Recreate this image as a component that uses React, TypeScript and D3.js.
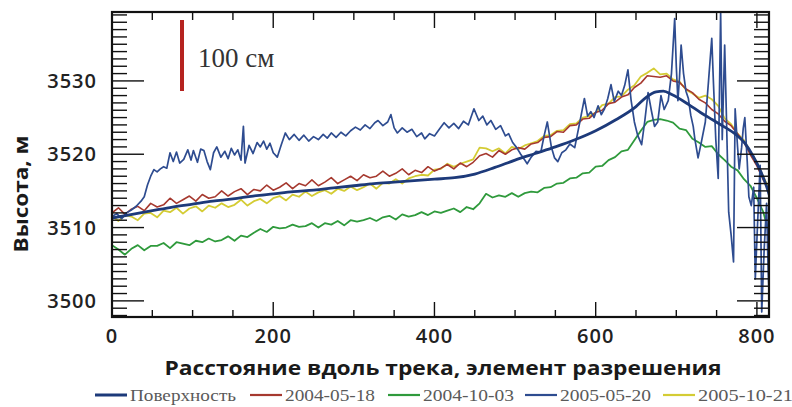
import React from "react";
import * as d3 from "d3";

// ---------- data ----------
const xTicks = [0, 200, 400, 600, 800];
const yTicks = [3500, 3510, 3520, 3530];
const legendLabels = ["Поверхность", "2004-05-18", "2004-10-03", "2005-05-20", "2005-10-21"];
const scaleBarLabel = "100 см";
const xTitle = "Расстояние вдоль трека, элемент разрешения";
const yTitle = "Высота, м";

// smooth surface
const surfX = [0, 25, 50, 75, 100, 125, 150, 175, 200, 225, 250, 275, 300, 325, 350, 375, 400, 425, 450, 475, 500, 525, 550, 575, 600, 625, 650, 663, 675, 684, 695, 715, 730, 745, 760, 775, 785, 795, 805, 812, 818];
const surfY = [3511.3, 3511.8, 3512.3, 3512.8, 3513.2, 3513.6, 3513.9, 3514.3, 3514.6, 3514.9, 3515.1, 3515.4, 3515.7, 3516.0, 3516.2, 3516.4, 3516.6, 3516.8, 3517.3, 3518.2, 3519.2, 3520.1, 3521.0, 3522.0, 3523.2, 3524.7, 3526.5, 3527.8, 3528.5, 3528.6, 3528.1, 3526.8, 3525.7, 3524.7, 3523.7, 3522.6, 3521.5, 3519.8, 3517.6, 3515.6, 3513.5];

// noisy profiles sampled every 8 elements (0..816)
const sampleStep = 8;
const red0518 = [3512.0, 3512.7, 3511.8, 3512.5, 3512.9, 3512.3, 3513.3, 3512.8, 3513.1, 3514.0, 3513.3, 3513.8, 3514.3, 3513.6, 3514.5, 3514.0, 3514.2, 3515.0, 3514.3, 3514.9, 3515.3, 3514.5, 3515.2, 3515.0, 3515.8, 3515.1, 3515.5, 3516.1, 3515.3, 3516.0, 3515.7, 3516.5, 3515.7, 3516.2, 3516.8, 3516.0, 3516.5, 3517.0, 3516.4, 3517.2, 3516.8, 3517.0, 3517.7, 3517.0, 3517.4, 3518.0, 3517.2, 3517.8, 3517.5, 3518.3, 3517.7, 3518.1, 3518.6, 3518.0, 3518.8, 3518.3, 3518.9, 3519.8, 3520.1, 3519.6, 3520.5, 3520.0, 3520.6, 3520.9, 3520.7, 3521.4, 3521.6, 3522.3, 3522.4, 3523.1, 3523.0, 3523.9, 3524.0, 3524.8, 3524.9, 3525.7, 3526.0, 3526.9, 3527.1, 3527.8, 3528.1, 3529.1, 3529.7, 3530.7, 3530.6, 3530.5, 3530.7, 3530.0, 3529.8, 3528.9, 3528.4, 3527.5, 3527.0, 3526.1, 3525.5, 3524.5, 3523.9, 3522.8, 3521.6, 3519.9, 3518.4, 3516.5, 3514.8];
const green1003 = [3507.6, 3507.0, 3506.3, 3507.1, 3507.6, 3506.9, 3507.5, 3507.5, 3507.9, 3507.2, 3508.0, 3507.8, 3507.6, 3508.2, 3508.0, 3508.5, 3508.1, 3508.3, 3508.8, 3508.2, 3508.9, 3508.7, 3509.3, 3509.8, 3509.4, 3510.1, 3509.9, 3510.0, 3510.4, 3510.1, 3510.2, 3510.6, 3510.0, 3510.6, 3510.4, 3510.9, 3510.3, 3511.0, 3510.8, 3511.0, 3511.3, 3510.9, 3511.4, 3511.6, 3511.1, 3511.8, 3511.5, 3511.7, 3512.1, 3511.7, 3512.2, 3512.0, 3512.3, 3512.6, 3512.1, 3512.8, 3512.5, 3513.3, 3514.6, 3514.1, 3514.4, 3514.2, 3514.7, 3514.2, 3514.7, 3514.9, 3514.8, 3515.4, 3515.5, 3516.0, 3516.1, 3516.7, 3516.8, 3517.4, 3517.5, 3518.3, 3518.4, 3519.2, 3519.6, 3520.4, 3520.6, 3521.9, 3523.2, 3524.4, 3524.7, 3524.8, 3524.6, 3524.3, 3523.5, 3523.3, 3522.1, 3521.6, 3521.0, 3521.1, 3520.0, 3519.2, 3518.3, 3517.8, 3516.6, 3515.7, 3514.0, 3512.1, 3508.8];
const yellow1021 = [3511.6, 3510.9, 3511.7, 3511.5, 3511.0, 3511.9, 3512.0, 3511.4, 3512.3, 3512.1, 3512.7, 3511.9, 3512.6, 3512.9, 3512.2, 3513.0, 3512.7, 3513.3, 3512.8, 3513.1, 3513.8, 3513.0, 3513.6, 3513.9, 3513.3, 3514.0, 3514.3, 3513.7, 3514.5, 3514.2, 3514.9, 3514.3, 3514.8, 3515.1, 3514.6, 3515.3, 3515.0, 3515.6, 3515.1, 3515.5, 3516.0, 3515.3, 3516.1, 3516.0, 3516.6, 3516.0, 3516.7, 3517.0, 3517.2, 3517.1, 3517.9, 3518.0, 3518.7, 3518.3, 3518.7, 3519.0, 3519.3, 3520.9, 3520.8, 3520.4, 3520.8, 3520.1, 3521.0, 3520.7, 3521.2, 3521.5, 3521.8, 3522.5, 3522.6, 3523.2, 3523.3, 3524.1, 3524.2, 3525.0, 3525.2, 3525.7, 3526.7, 3526.9, 3527.8, 3527.9, 3528.8, 3529.4, 3530.6, 3531.1, 3531.7, 3530.9, 3531.0, 3530.2, 3529.9, 3528.8, 3528.3, 3527.7, 3528.0, 3527.5, 3526.6, 3524.9, 3524.1, 3522.8, 3521.9, 3520.3, 3518.9, 3516.9, 3515.2];

// 2005-05-20 profile (irregular sampling, dense where it is noisy)
const blueX = [0, 6, 12, 18, 24, 30, 36, 40, 44, 48, 52, 56, 60, 64, 68, 72, 76, 80, 84, 89, 94, 98, 101, 106, 110, 114, 118, 122, 126, 130, 135, 140, 144, 148, 152, 156, 160, 163, 165, 170, 175, 180, 184, 188, 192, 196, 200, 205, 210, 215, 220, 226, 232, 238, 244, 250, 256, 262, 267, 272, 278, 284, 290, 296, 302, 308, 314, 320, 326, 330, 336, 342, 346, 350, 354, 360, 366, 372, 378, 384, 388, 394, 400, 406, 412, 418, 424, 430, 436, 442, 449, 455, 460, 465, 470, 476, 482, 488, 492, 497, 502, 507, 512, 515, 520, 526, 532, 536, 540, 545, 549, 553, 558, 563, 568, 574, 580, 586, 590, 594, 598, 603, 607, 611, 615, 619, 623, 628, 632, 636, 640, 644, 648, 652, 657, 661, 665, 669, 673, 677, 681, 685, 690, 694, 698, 700, 702, 704, 706, 709, 712, 715, 718, 721, 723, 727, 731, 736, 740, 744, 746, 749, 752, 755, 757, 760, 762, 765, 768, 771, 773, 776, 778, 781, 783, 785, 788, 790, 793, 796, 798, 801, 804, 806, 809, 812, 814, 816, 818];
const blue0520 = [3511.5, 3511.9, 3511.2, 3512.0, 3512.4, 3512.9, 3513.6, 3514.2, 3515.8, 3517.0, 3517.9, 3517.6, 3518.0, 3518.3, 3518.1, 3520.2, 3519.0, 3520.3, 3518.8, 3519.3, 3520.6, 3519.2, 3520.5, 3518.9, 3520.7, 3520.5, 3519.0, 3517.9, 3520.2, 3521.0, 3519.6, 3520.4, 3519.4, 3520.8, 3519.9, 3520.6, 3519.2, 3523.8, 3518.8, 3521.2, 3520.1, 3521.6, 3521.0, 3521.8, 3520.7, 3521.5, 3520.2, 3519.6, 3521.3, 3522.9, 3522.0, 3522.7, 3521.9, 3522.6, 3521.8, 3522.4, 3522.0, 3522.7, 3522.2, 3522.9, 3522.3, 3523.0, 3522.5, 3523.2, 3523.7, 3523.3, 3524.0, 3523.5, 3524.3, 3524.6, 3523.9, 3524.4, 3525.4, 3523.6, 3522.9, 3523.6, 3523.0, 3523.4, 3522.4, 3522.9, 3522.1, 3522.8, 3522.5, 3523.4, 3524.3, 3523.6, 3524.2, 3523.5, 3524.5, 3524.0, 3526.2, 3524.6, 3525.2, 3524.0, 3524.6, 3523.4, 3523.9, 3522.5, 3522.8, 3521.6, 3520.9, 3520.0, 3519.2, 3518.7, 3519.6, 3520.4, 3520.3, 3522.5, 3524.4, 3521.0, 3519.5, 3519.0, 3520.2, 3520.6, 3521.4, 3520.9, 3524.2, 3527.6, 3525.2, 3525.8, 3525.0, 3526.6, 3525.4, 3526.2, 3527.6, 3529.5, 3527.2, 3528.6, 3528.0, 3529.4, 3531.5, 3527.3, 3524.4, 3522.6, 3521.3, 3524.6, 3528.4, 3526.0, 3523.8, 3524.4, 3528.0, 3526.1, 3527.3, 3531.0, 3538.5, 3532.0, 3527.3, 3530.5, 3534.9, 3531.0, 3528.6, 3527.6, 3525.3, 3523.8, 3522.1, 3519.5, 3521.6, 3524.4, 3530.0, 3535.8, 3530.0, 3522.0, 3516.7, 3539.4, 3522.0, 3534.9, 3526.0, 3512.1, 3509.0, 3505.3, 3526.2, 3521.0, 3518.0, 3520.9, 3523.5, 3525.0, 3519.0, 3514.2, 3513.0, 3515.5, 3503.0, 3511.0, 3518.5, 3498.5, 3507.0, 3513.3, 3504.0, 3498.5, 3502.0];

// ---------- layout ----------
const W = 792;
const H = 407;
const M = { left: 112, top: 12, right: 769, bottom: 317 };

const x = d3.scaleLinear().domain([0, 815]).range([M.left, M.right]);
const y = d3.scaleLinear().domain([3497.8, 3539.4]).range([M.bottom, M.top]);

const colors = {
  surface: "#1d3a7a",
  red: "#a6392f",
  green: "#2f9a3c",
  blue: "#2e4c90",
  yellow: "#d4cc34",
};

type Pt = [number, number];
const sampled = (vals: number[]): Pt[] => vals.map((v, i) => [i * sampleStep, v]);
const paired = (xs: number[], ys: number[]): Pt[] => xs.map((u, i) => [u, ys[i]]);

const lineGen = d3.line<Pt>().x((d) => x(d[0])).y((d) => y(d[1]));
const smoothGen = d3
  .line<Pt>()
  .x((d) => x(d[0]))
  .y((d) => y(d[1]))
  .curve(d3.curveMonotoneX);

export default function App() {
  const xMinor = d3.range(0, 816, 50);
  const yMinor = d3.range(3498, 3540, 1);
  const legendColors = [colors.surface, colors.red, colors.green, colors.blue, colors.yellow];
  const legendX = [95, 250, 388, 525, 663];
  const legendWidths = [106, 90, 91, 91, 95];

  return (
    <svg
      width={W}
      height={H}
      viewBox={`0 0 ${W} ${H}`}
      style={{ position: "absolute", left: 0, top: 0, background: "#fff" }}
    >
      <defs>
        <clipPath id="plotClip">
          <rect x={M.left} y={M.top} width={M.right - M.left} height={M.bottom - M.top} />
        </clipPath>
      </defs>
      <rect x={0} y={0} width={W} height={H} fill="#fff" />

      {/* data */}
      <g clipPath="url(#plotClip)" fill="none" strokeLinejoin="round">
        <path d={lineGen(sampled(green1003)) || ""} stroke={colors.green} strokeWidth={1.8} />
        <path d={lineGen(sampled(yellow1021)) || ""} stroke={colors.yellow} strokeWidth={1.8} />
        <path d={lineGen(sampled(red0518)) || ""} stroke={colors.red} strokeWidth={1.6} />
        <path d={lineGen(paired(blueX, blue0520)) || ""} stroke={colors.blue} strokeWidth={1.7} />
        <path d={smoothGen(paired(surfX, surfY)) || ""} stroke={colors.surface} strokeWidth={2.8} />
      </g>

      {/* ticks bottom & top */}
      <g stroke="#111" strokeWidth={1.4}>
        {xMinor.map((t) => {
          const major = t % 200 === 0;
          const len = major ? 15 : 7;
          return (
            <g key={"xt" + t}>
              <line x1={x(t)} x2={x(t)} y1={M.bottom} y2={M.bottom - len} />
              <line x1={x(t)} x2={x(t)} y1={M.top} y2={M.top + (major ? 16 : 8)} />
            </g>
          );
        })}
        {yMinor.map((t) => {
          const major = t % 10 === 0;
          const len = major ? 32 : 15;
          return (
            <g key={"yt" + t}>
              <line x1={M.left} x2={M.left + len} y1={y(t)} y2={y(t)} />
              <line x1={M.right} x2={M.right - len} y1={y(t)} y2={y(t)} />
            </g>
          );
        })}
      </g>

      {/* frame */}
      <rect
        x={M.left}
        y={M.top}
        width={M.right - M.left}
        height={M.bottom - M.top}
        fill="none"
        stroke="#111"
        strokeWidth={2.2}
      />

      {/* scale bar */}
      <line x1={182} x2={182} y1={20} y2={91} stroke="#b5231f" strokeWidth={4} />
      <text x={198} y={67} fontFamily="'Liberation Serif', serif" fontSize={27} fill="#333">
        {scaleBarLabel}
      </text>

      {/* tick labels */}
      <g fontFamily="'Open Sans', sans-serif" fontWeight={600} fontSize={20} fill="#222">
        {yTicks.map((t) => (
          <text key={"yl" + t} x={97} y={y(t) + 7} textAnchor="end" letterSpacing={1}>
            {t}
          </text>
        ))}
        {xTicks.map((t) => (
          <text key={"xl" + t} x={x(t)} y={343} textAnchor="middle" letterSpacing={1}>
            {t}
          </text>
        ))}
      </g>

      {/* axis titles */}
      <text
        x={443}
        y={375}
        textAnchor="middle"
        fontFamily="'Open Sans', sans-serif"
        fontWeight={700}
        fontSize={20}
        fill="#1a1a1a"
        textLength={557}
        lengthAdjust="spacingAndGlyphs"
      >
        {xTitle}
      </text>
      <text
        transform={`translate(28,194) rotate(-90)`}
        textAnchor="middle"
        fontFamily="'Open Sans', sans-serif"
        fontWeight={700}
        fontSize={20}
        fill="#1a1a1a"
        textLength={117}
        lengthAdjust="spacingAndGlyphs"
      >
        {yTitle}
      </text>

      {/* legend */}
      <g>
        {legendLabels.map((lab, i) => (
          <g key={lab}>
            <line
              x1={legendX[i]}
              x2={legendX[i] + 32}
              y1={395}
              y2={395}
              stroke={legendColors[i]}
              strokeWidth={i === 0 ? 3 : 2.2}
            />
            <text
              x={legendX[i] + 35}
              y={401}
              fontFamily="'Liberation Serif', serif"
              fontSize={16}
              fill="#5a5a5a"
              textLength={legendWidths[i]}
              lengthAdjust="spacingAndGlyphs"
            >
              {lab}
            </text>
          </g>
        ))}
      </g>
    </svg>
  );
}
